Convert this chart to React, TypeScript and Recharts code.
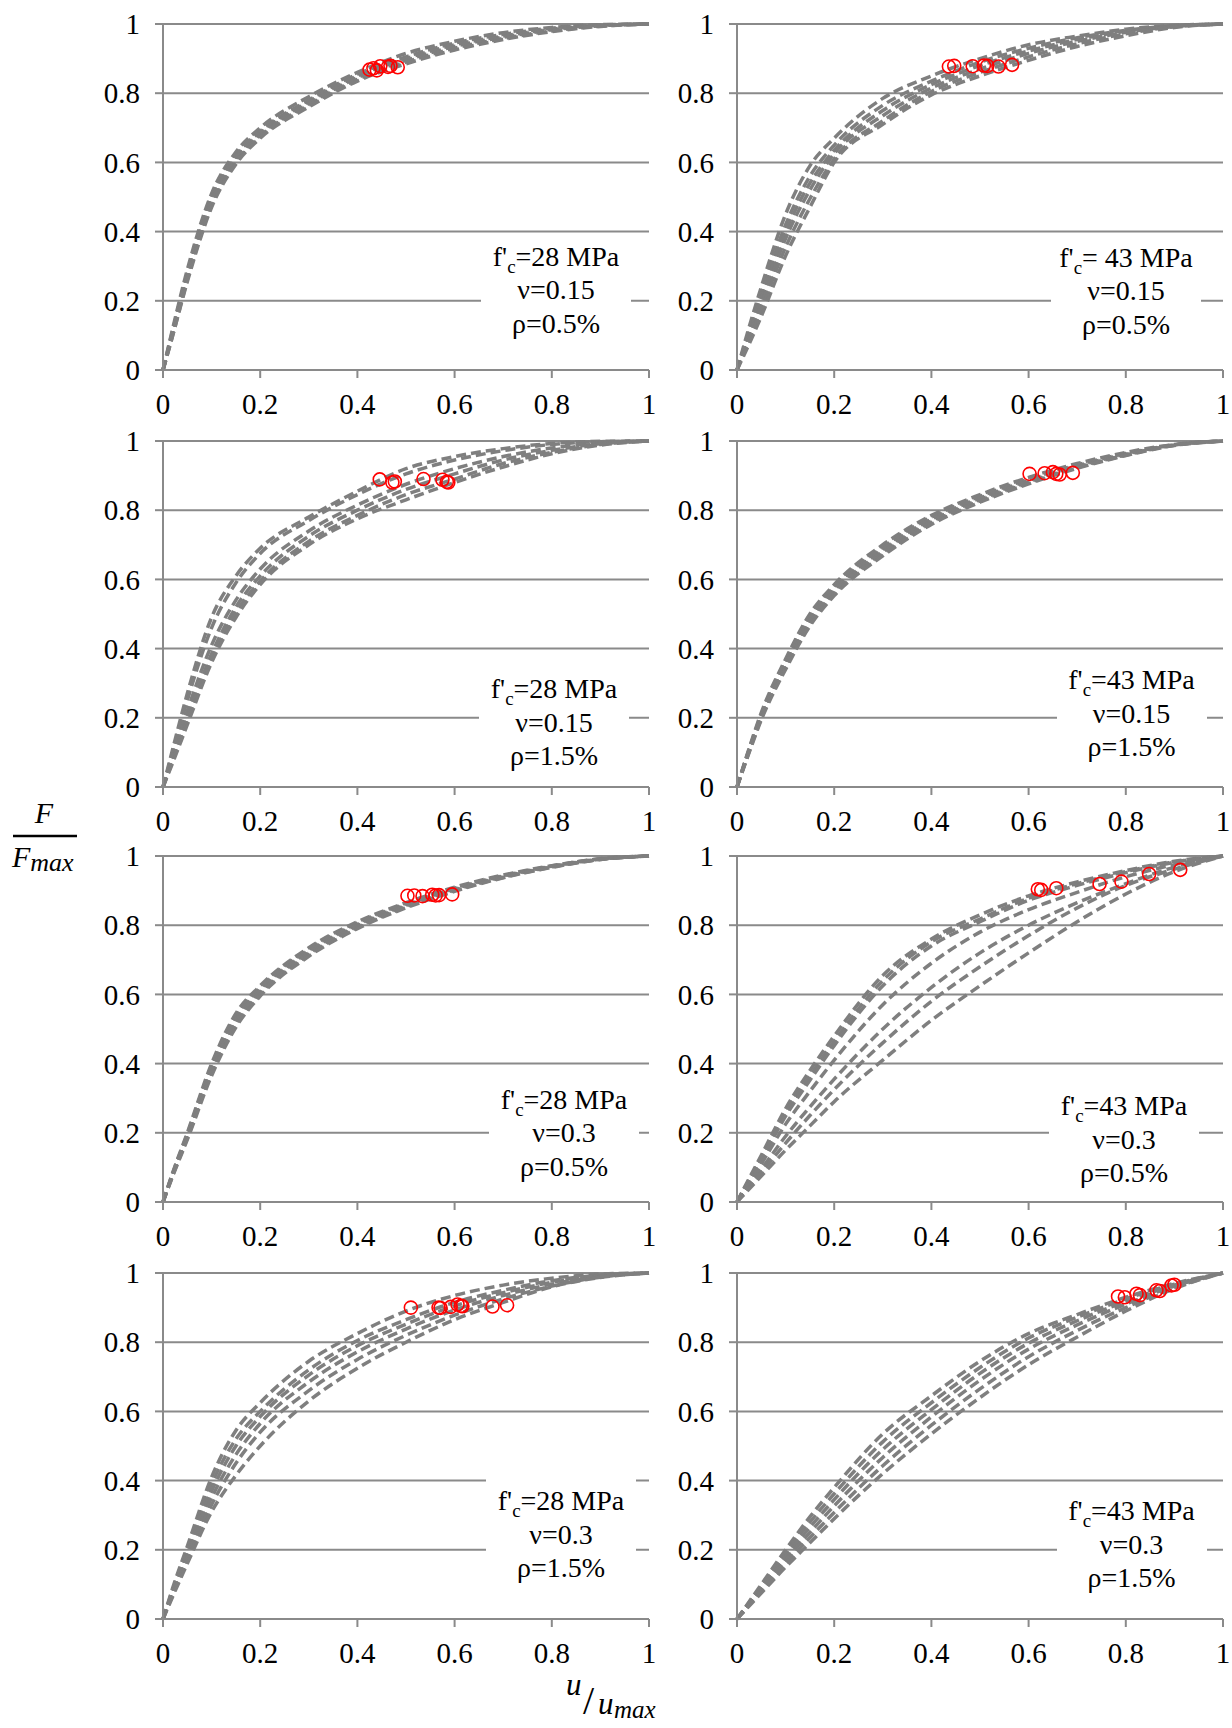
import React from 'react';
import { ComposedChart, Line, Scatter, XAxis, YAxis, CartesianGrid } from 'recharts';

// shared abscissa u/umax for all curves
const XS = [0, 0.02, 0.05, 0.1, 0.15, 0.2, 0.3, 0.4, 0.5, 0.6, 0.7, 0.8, 0.9, 1];
const TICKS = [0, 0.2, 0.4, 0.6, 0.8, 1];

// Panel 1: f'c=28 MPa, v=0.15, rho=0.5%
const p1Curves = [
  [0, 0.12, 0.29, 0.51, 0.63, 0.70, 0.79, 0.86, 0.915, 0.95, 0.975, 0.99, 0.998, 1],
  [0, 0.115, 0.28, 0.50, 0.62, 0.69, 0.78, 0.855, 0.905, 0.945, 0.97, 0.988, 0.997, 1],
  [0, 0.11, 0.275, 0.49, 0.615, 0.685, 0.775, 0.85, 0.90, 0.94, 0.965, 0.985, 0.996, 1],
  [0, 0.105, 0.27, 0.485, 0.61, 0.68, 0.77, 0.845, 0.895, 0.935, 0.962, 0.983, 0.995, 1],
  [0, 0.10, 0.26, 0.475, 0.60, 0.675, 0.765, 0.84, 0.89, 0.93, 0.958, 0.98, 0.994, 1],
  [0, 0.10, 0.255, 0.47, 0.595, 0.67, 0.76, 0.835, 0.885, 0.925, 0.955, 0.978, 0.993, 1],
];
const p1PeakX = [0.425, 0.433, 0.44, 0.447, 0.463, 0.468, 0.483];
const p1PeakY = [0.868, 0.872, 0.866, 0.878, 0.876, 0.879, 0.875];

// Panel 2: f'c=43 MPa, v=0.15, rho=0.5%
const p2Curves = [
  [0, 0.10, 0.24, 0.45, 0.59, 0.67, 0.785, 0.85, 0.90, 0.94, 0.965, 0.985, 0.996, 1],
  [0, 0.09, 0.22, 0.42, 0.56, 0.65, 0.765, 0.835, 0.89, 0.93, 0.96, 0.982, 0.995, 1],
  [0, 0.085, 0.205, 0.40, 0.54, 0.635, 0.75, 0.825, 0.88, 0.922, 0.955, 0.979, 0.994, 1],
  [0, 0.075, 0.19, 0.38, 0.52, 0.625, 0.735, 0.815, 0.87, 0.915, 0.95, 0.976, 0.993, 1],
  [0, 0.07, 0.175, 0.355, 0.495, 0.61, 0.72, 0.805, 0.86, 0.905, 0.943, 0.972, 0.992, 1],
  [0, 0.06, 0.155, 0.33, 0.47, 0.60, 0.71, 0.795, 0.85, 0.895, 0.935, 0.966, 0.99, 1],
];
const p2PeakX = [0.436, 0.447, 0.485, 0.508, 0.515, 0.538, 0.566];
const p2PeakY = [0.877, 0.879, 0.878, 0.88, 0.879, 0.877, 0.882];

// Panel 3: f'c=28 MPa, v=0.15, rho=1.5%
const p3Curves = [
  [0, 0.11, 0.27, 0.49, 0.61, 0.69, 0.78, 0.855, 0.92, 0.955, 0.978, 0.993, 0.999, 1],
  [0, 0.10, 0.25, 0.46, 0.59, 0.675, 0.77, 0.845, 0.905, 0.945, 0.972, 0.99, 0.998, 1],
  [0, 0.09, 0.22, 0.41, 0.54, 0.63, 0.74, 0.815, 0.875, 0.92, 0.955, 0.98, 0.995, 1],
  [0, 0.08, 0.20, 0.385, 0.52, 0.61, 0.725, 0.80, 0.86, 0.905, 0.945, 0.973, 0.992, 1],
  [0, 0.075, 0.19, 0.37, 0.505, 0.595, 0.71, 0.785, 0.845, 0.89, 0.935, 0.967, 0.99, 1],
  [0, 0.07, 0.18, 0.36, 0.49, 0.585, 0.70, 0.775, 0.83, 0.88, 0.925, 0.963, 0.988, 1],
];
const p3PeakX = [0.446, 0.472, 0.477, 0.536, 0.575, 0.584, 0.587];
const p3PeakY = [0.889, 0.88, 0.883, 0.89, 0.888, 0.882, 0.88];

// Panel 4: f'c=43 MPa, v=0.15, rho=1.5%
const p4Curves = [
  [0, 0.09, 0.215, 0.37, 0.50, 0.585, 0.70, 0.785, 0.845, 0.895, 0.935, 0.967, 0.99, 1],
  [0, 0.088, 0.21, 0.365, 0.493, 0.578, 0.693, 0.78, 0.84, 0.89, 0.931, 0.964, 0.989, 1],
  [0, 0.086, 0.206, 0.358, 0.486, 0.571, 0.686, 0.774, 0.835, 0.886, 0.928, 0.962, 0.989, 1],
  [0, 0.084, 0.202, 0.352, 0.479, 0.565, 0.68, 0.769, 0.831, 0.882, 0.925, 0.96, 0.988, 1],
  [0, 0.082, 0.198, 0.346, 0.472, 0.559, 0.674, 0.764, 0.827, 0.879, 0.923, 0.959, 0.988, 1],
  [0, 0.08, 0.194, 0.34, 0.465, 0.553, 0.668, 0.759, 0.823, 0.876, 0.921, 0.958, 0.987, 1],
];
const p4PeakX = [0.602, 0.633, 0.65, 0.657, 0.664, 0.691];
const p4PeakY = [0.905, 0.907, 0.91, 0.905, 0.903, 0.908];

// Panel 5: f'c=28 MPa, v=0.3, rho=0.5%
const p5Curves = [
  [0, 0.085, 0.20, 0.40, 0.545, 0.625, 0.735, 0.81, 0.865, 0.91, 0.945, 0.972, 0.992, 1],
  [0, 0.083, 0.196, 0.393, 0.537, 0.619, 0.73, 0.806, 0.862, 0.907, 0.943, 0.971, 0.992, 1],
  [0, 0.081, 0.192, 0.386, 0.529, 0.613, 0.725, 0.802, 0.859, 0.905, 0.942, 0.970, 0.991, 1],
  [0, 0.079, 0.188, 0.379, 0.521, 0.607, 0.72, 0.798, 0.856, 0.902, 0.94, 0.969, 0.991, 1],
  [0, 0.077, 0.184, 0.372, 0.513, 0.601, 0.715, 0.794, 0.853, 0.90, 0.938, 0.968, 0.99, 1],
  [0, 0.075, 0.18, 0.365, 0.505, 0.595, 0.71, 0.79, 0.85, 0.898, 0.937, 0.967, 0.99, 1],
];
const p5PeakX = [0.503, 0.517, 0.534, 0.554, 0.561, 0.568, 0.595];
const p5PeakY = [0.885, 0.886, 0.884, 0.888, 0.886, 0.887, 0.889];

// Panel 6: f'c=43 MPa, v=0.3, rho=0.5%
const p6Curves = [
  [0, 0.055, 0.135, 0.27, 0.38, 0.48, 0.655, 0.76, 0.83, 0.885, 0.925, 0.958, 0.985, 1],
  [0, 0.052, 0.128, 0.258, 0.365, 0.465, 0.64, 0.752, 0.818, 0.878, 0.92, 0.955, 0.983, 1],
  [0, 0.05, 0.122, 0.248, 0.352, 0.452, 0.625, 0.74, 0.81, 0.872, 0.915, 0.952, 0.982, 1],
  [0, 0.045, 0.11, 0.225, 0.32, 0.41, 0.57, 0.69, 0.78, 0.845, 0.895, 0.94, 0.975, 1],
  [0, 0.04, 0.095, 0.19, 0.275, 0.355, 0.50, 0.62, 0.72, 0.80, 0.865, 0.92, 0.968, 1],
  [0, 0.035, 0.085, 0.17, 0.25, 0.325, 0.46, 0.58, 0.68, 0.77, 0.85, 0.915, 0.962, 1],
  [0, 0.03, 0.075, 0.15, 0.22, 0.29, 0.41, 0.525, 0.625, 0.72, 0.81, 0.89, 0.955, 1],
];
const p6PeakX = [0.619, 0.626, 0.657, 0.746, 0.791, 0.848, 0.912];
const p6PeakY = [0.904, 0.902, 0.907, 0.919, 0.926, 0.948, 0.96];

// Panel 7: f'c=28 MPa, v=0.3, rho=1.5%
const p7Curves = [
  [0, 0.09, 0.21, 0.41, 0.545, 0.625, 0.745, 0.825, 0.89, 0.935, 0.965, 0.985, 0.997, 1],
  [0, 0.085, 0.20, 0.39, 0.52, 0.60, 0.72, 0.805, 0.865, 0.915, 0.95, 0.978, 0.994, 1],
  [0, 0.08, 0.19, 0.37, 0.50, 0.585, 0.705, 0.79, 0.852, 0.905, 0.943, 0.973, 0.992, 1],
  [0, 0.075, 0.18, 0.35, 0.475, 0.565, 0.685, 0.772, 0.838, 0.893, 0.935, 0.968, 0.99, 1],
  [0, 0.07, 0.17, 0.33, 0.45, 0.54, 0.66, 0.75, 0.82, 0.878, 0.925, 0.962, 0.988, 1],
  [0, 0.065, 0.16, 0.31, 0.415, 0.50, 0.63, 0.725, 0.80, 0.865, 0.915, 0.96, 0.987, 1],
];
const p7PeakX = [0.51, 0.567, 0.571, 0.592, 0.606, 0.613, 0.616, 0.678, 0.708];
const p7PeakY = [0.9, 0.9, 0.899, 0.902, 0.909, 0.905, 0.904, 0.903, 0.907];

// Panel 8: f'c=43 MPa, v=0.3, rho=1.5%
const p8Curves = [
  [0, 0.04, 0.10, 0.20, 0.295, 0.38, 0.535, 0.645, 0.745, 0.825, 0.88, 0.93, 0.97, 1],
  [0, 0.038, 0.095, 0.19, 0.28, 0.362, 0.512, 0.625, 0.727, 0.812, 0.872, 0.925, 0.968, 1],
  [0, 0.036, 0.09, 0.18, 0.265, 0.345, 0.49, 0.605, 0.71, 0.797, 0.862, 0.918, 0.965, 1],
  [0, 0.034, 0.085, 0.17, 0.25, 0.327, 0.467, 0.584, 0.69, 0.78, 0.85, 0.91, 0.962, 1],
  [0, 0.032, 0.08, 0.16, 0.235, 0.308, 0.443, 0.56, 0.665, 0.758, 0.834, 0.90, 0.958, 1],
  [0, 0.03, 0.075, 0.15, 0.22, 0.29, 0.42, 0.535, 0.64, 0.735, 0.815, 0.89, 0.955, 1],
];
const p8PeakX = [0.784, 0.798, 0.822, 0.829, 0.863, 0.87, 0.894, 0.9];
const p8PeakY = [0.932, 0.93, 0.94, 0.936, 0.95, 0.948, 0.964, 0.966];

// Panel labels
const fcLabels = ['=28 MPa', '= 43 MPa', '=28 MPa', '=43 MPa', '=28 MPa', '=43 MPa', '=28 MPa', '=43 MPa'];
const nuLabels = ['0.15', '0.15', '0.15', '0.15', '0.3', '0.3', '0.3', '0.3'];
const rhoLabels = ['0.5%', '0.5%', '1.5%', '1.5%', '0.5%', '0.5%', '1.5%', '1.5%'];

const ALL_CURVES = [p1Curves, p2Curves, p3Curves, p4Curves, p5Curves, p6Curves, p7Curves, p8Curves];
const ALL_PX = [p1PeakX, p2PeakX, p3PeakX, p4PeakX, p5PeakX, p6PeakX, p7PeakX, p8PeakX];
const ALL_PY = [p1PeakY, p2PeakY, p3PeakY, p4PeakY, p5PeakY, p6PeakY, p7PeakY, p8PeakY];

// layout (pixels)
const ROW_TOPS = [24, 441, 856, 1273];
const PLOT_H = 346;
const COLS = [
  { left: 80, width: 584, mr: 15 },
  { left: 654, width: 578, mr: 9 },
];
const TEXT_POS = [
  [393, 232.5], [389, 233.6], [391, 248], [394.5, 239],
  [401, 243.5], [387, 250], [398, 228], [394.5, 238],
];

const GRID = '#8a8a8a';
const CURVE = '#7f7f7f';
const FONT = 'Liberation Serif, DejaVu Serif, serif';
const Y_W = 83;
const TOP_M = 20;
const X_H = 50;

const circleShape = (props: any) => (
  <circle cx={props.cx} cy={props.cy} r={6.5} fill="none" stroke="#ff0000" strokeWidth={1.6} />
);

function Panel({ idx }: { idx: number }) {
  const col = COLS[idx % 2];
  const rowTop = ROW_TOPS[Math.floor(idx / 2)];
  const H = TOP_M + PLOT_H + X_H;
  const curves = ALL_CURVES[idx];
  const pts = ALL_PX[idx].map((x, i) => ({ x, y: ALL_PY[idx][i] }));
  const [tx, ty] = TEXT_POS[idx];
  const tickStyle = { fontFamily: FONT, fontSize: 29, fill: '#000' };
  return (
    <div style={{ position: 'absolute', left: col.left, top: rowTop - TOP_M, width: col.width, height: H }}>
      <ComposedChart width={col.width} height={H} margin={{ top: TOP_M, right: col.mr, bottom: 0, left: 0 }} style={{ overflow: 'visible' }}>
        <CartesianGrid vertical={false} stroke={GRID} strokeWidth={2} />
        <XAxis
          dataKey="x"
          type="number"
          domain={[0, 1]}
          ticks={TICKS}
          height={X_H}
          tickSize={8}
          tickMargin={15}
          interval={0}
          tick={tickStyle}
          axisLine={{ stroke: GRID, strokeWidth: 2 }}
          tickLine={{ stroke: GRID, strokeWidth: 2 }}
        />
        <YAxis
          dataKey="y"
          type="number"
          domain={[0, 1]}
          ticks={TICKS}
          width={Y_W}
          tickSize={8}
          tickMargin={15}
          interval={0}
          tick={tickStyle}
          axisLine={{ stroke: GRID, strokeWidth: 2 }}
          tickLine={{ stroke: GRID, strokeWidth: 2 }}
        />
        {curves.map((ys, i) => (
          <Line
            key={i}
            data={XS.map((x, j) => ({ x, y: ys[j] }))}
            dataKey="y"
            type="monotone"
            stroke={CURVE}
            strokeWidth={3.5}
            strokeDasharray="10 5"
            dot={false}
            activeDot={false}
            isAnimationActive={false}
          />
        ))}
        <Scatter data={pts} dataKey="y" shape={circleShape} isAnimationActive={false} />
      </ComposedChart>
      <div
        style={{
          position: 'absolute',
          left: Y_W + tx - 75,
          top: TOP_M + ty - 24,
          width: 150,
          height: 115,
          boxSizing: 'border-box',
          paddingTop: 7,
          background: '#fff',
          textAlign: 'center',
          fontFamily: FONT,
          fontSize: 28,
          lineHeight: '33.6px',
          color: '#000',
          whiteSpace: 'nowrap',
        }}
      >
        <div>
          f'<span style={{ fontSize: 19, position: 'relative', top: 7, lineHeight: 0 }}>c</span>
          {fcLabels[idx]}
        </div>
        <div>ν={nuLabels[idx]}</div>
        <div>ρ={rhoLabels[idx]}</div>
      </div>
    </div>
  );
}

export default function App() {
  return (
    <div style={{ position: 'absolute', left: 0, top: 0, width: 1232, height: 1728, background: '#fff', overflow: 'hidden' }}>
      {[0, 1, 2, 3, 4, 5, 6, 7].map((i) => (
        <Panel key={i} idx={i} />
      ))}
      <svg width={1232} height={1728} style={{ position: 'absolute', left: 0, top: 0, pointerEvents: 'none' }}>
        <g fontFamily={FONT} fontStyle="italic" fill="#000">
          <text x={44} y={823} fontSize={30} textAnchor="middle">F</text>
          <line x1={13} y1={836} x2={77} y2={836} stroke="#000" strokeWidth={2.5} />
          <text x={12} y={867} fontSize={30}>
            F<tspan fontSize={26} dy={4}>max</tspan>
          </text>
          <text x={566} y={1695} fontSize={31}>u</text>
          <text x={583} y={1714} fontSize={40} fontStyle="normal">/</text>
          <text x={598} y={1714} fontSize={31}>u</text>
          <text x={614} y={1718} fontSize={25}>max</text>
        </g>
      </svg>
    </div>
  );
}
